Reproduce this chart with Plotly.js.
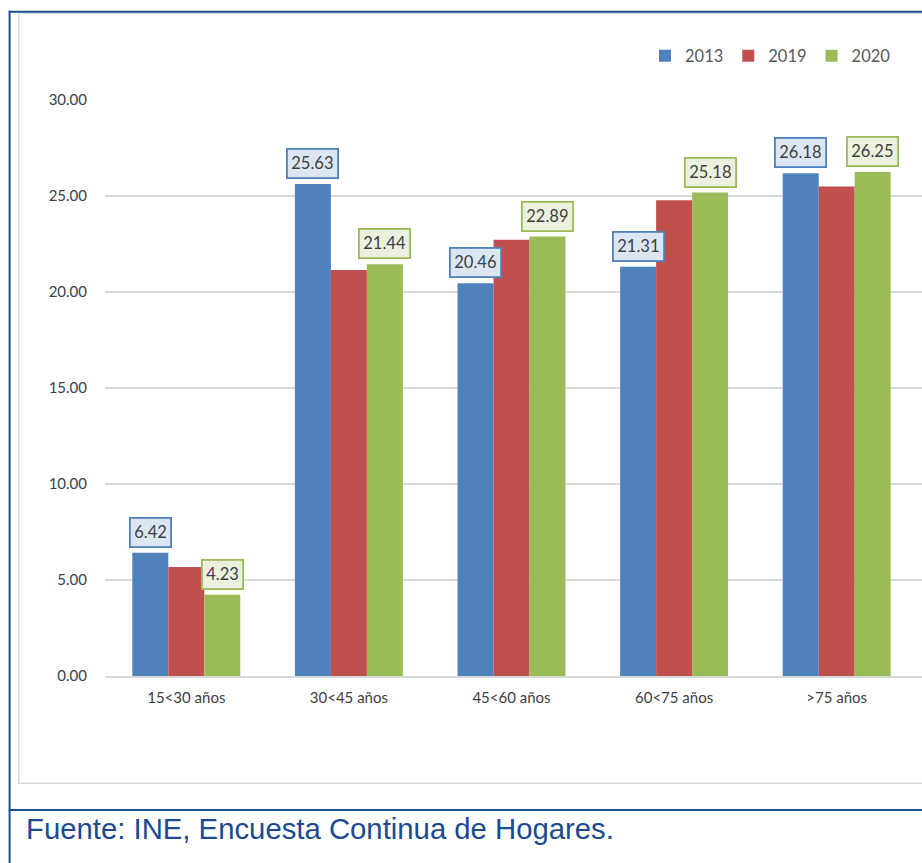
<!DOCTYPE html>
<html>
<head>
<meta charset="utf-8">
<script src="https://cdn.plot.ly/plotly-3.0.1.min.js"></script>
<style>
html,body{margin:0;padding:0;background:#fff;}
#chart{width:922px;height:863px;}
</style>
</head>
<body>
<div id="chart"></div>
<script>
// ---- data ----
var categories = ["15<30 años", "30<45 años", "45<60 años", "60<75 años", ">75 años"];
var seriesNames = ["2013", "2019", "2020"];
var values2013 = [6.42, 25.63, 20.46, 21.31, 26.18];
var values2019 = [5.68, 21.15, 22.72, 24.78, 25.50];
var values2020 = [4.23, 21.44, 22.89, 25.18, 26.25];
var labelled = [true, false, true]; // which series carry data labels
var yTickVals = [0, 5, 10, 15, 20, 25, 30];
var sourceText = "Fuente: INE, Encuesta Continua de Hogares.";

// ---- styling ----
var W = 922, H = 863;
var M = {l: 105, r: 0, t: 100, b: 187};
var PW = W - M.l - M.r, PH = H - M.t - M.b;
function px2x(px) { return (px - M.l) / PW; }
function px2y(py) { return (H - M.b - py) / PH; }

var colors = ["#4f81bd", "#c0504d", "#9bbb59"];
var labelFill = ["#dce6f2", "#f2dcdb", "#ebf1de"];
var FONT = "Lato, Carlito, Calibri, sans-serif";
var bargap = 0.336;
var seriesVals = [values2013, values2019, values2020];

var traces = seriesVals.map(function (vals, k) {
  return {
    type: "bar",
    name: seriesNames[k],
    x: categories,
    y: vals,
    marker: {color: colors[k]},
    hoverinfo: "skip"
  };
});

var annotations = [];
var w = (1 - bargap) / seriesVals.length;
seriesVals.forEach(function (vals, k) {
  if (!labelled[k]) return;
  vals.forEach(function (v, i) {
    annotations.push({
      xref: "x", yref: "y",
      x: i + (k - 1) * w, y: v,
      text: v.toFixed(2),
      showarrow: false,
      xanchor: "center", yanchor: "bottom",
      yshift: 5,
      bgcolor: labelFill[k],
      bordercolor: colors[k],
      borderwidth: 1.8,
      borderpad: 3.5,
      font: {family: FONT, size: 16.5, color: "#404040"}
    });
  });
});

annotations.push({
  xref: "paper", yref: "paper",
  x: px2x(24), y: px2y(828),
  xanchor: "left", yanchor: "middle",
  text: sourceText,
  showarrow: false,
  font: {family: "Liberation Sans, Arial, sans-serif", size: 29.3, color: "#1b4a92"}
});

var blue = "#1b4f93";
var gray = "#d9d9d9";
var shapes = [
  // inner gray chart frame
  {type: "rect", xref: "paper", yref: "paper",
   x0: px2x(18.7), x1: px2x(930), y0: px2y(13.3), y1: px2y(783.3),
   line: {color: gray, width: 1.5}, fillcolor: "rgba(0,0,0,0)", layer: "below"},
  // outer blue frame lines
  {type: "line", xref: "paper", yref: "paper",
   x0: px2x(8.7), x1: px2x(930), y0: px2y(11.7), y1: px2y(11.7),
   line: {color: blue, width: 2}},
  {type: "line", xref: "paper", yref: "paper",
   x0: px2x(9.6), x1: px2x(9.6), y0: px2y(10.7), y1: px2y(870),
   line: {color: blue, width: 2}},
  {type: "line", xref: "paper", yref: "paper",
   x0: px2x(8.7), x1: px2x(930), y0: px2y(810), y1: px2y(810),
   line: {color: blue, width: 2.2}}
];

var layout = {
  width: W, height: H,
  margin: M,
  paper_bgcolor: "#ffffff",
  plot_bgcolor: "#ffffff",
  barmode: "group",
  bargap: bargap,
  bargroupgap: 0,
  font: {family: FONT, color: "#404040"},
  showlegend: true,
  legend: {
    orientation: "h",
    x: px2x(645), xanchor: "left",
    y: px2y(56), yanchor: "middle",
    font: {family: FONT, size: 16.5, color: "#595959"},
    itemwidth: 30,
    bgcolor: "rgba(0,0,0,0)",
    traceorder: "normal"
  },
  xaxis: {
    type: "category",
    range: [-0.5, 4.5 + 4 / 162.6],
    showgrid: false,
    showline: true,
    linecolor: gray,
    linewidth: 1.5,
    ticks: "outside",
    ticklen: 7,
    tickcolor: "rgba(0,0,0,0)",
    tickfont: {family: FONT, size: 15, color: "#404040"},
    fixedrange: true
  },
  yaxis: {
    range: [0, 30],
    tickvals: yTickVals,
    ticktext: yTickVals.map(function (v) { return v.toFixed(2); }),
    showgrid: true,
    gridcolor: gray,
    gridwidth: 1.5,
    zeroline: false,
    showline: false,
    ticks: "outside",
    ticklen: 14,
    tickcolor: "rgba(0,0,0,0)",
    tickfont: {family: FONT, size: 15, color: "#404040"},
    fixedrange: true
  },
  annotations: annotations,
  shapes: shapes
};

Plotly.newPlot("chart", traces, layout, {displayModeBar: false, staticPlot: true});
</script>
</body>
</html>
